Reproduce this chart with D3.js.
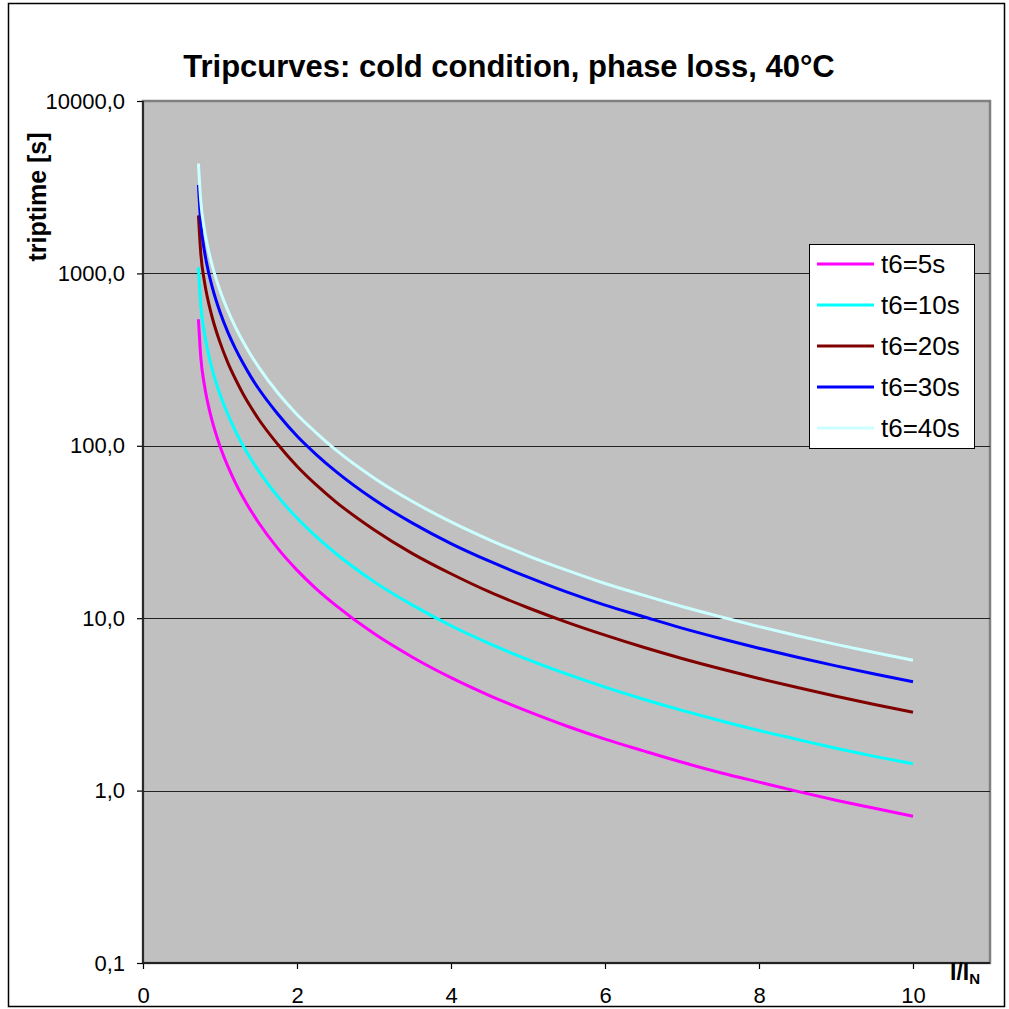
<!DOCTYPE html>
<html>
<head>
<meta charset="utf-8">
<script src="https://cdn.jsdelivr.net/npm/d3@7"></script>
<style>
	body { margin: 0; background: #ffffff; }
	text { font-family: "Liberation Sans", Arial, sans-serif; fill: #000; }
</style>
</head>
<body>
<div id="chart-area"></div>
<script>
// I/IN values where the curves are sampled
const xValues = [0.72, 0.75, 0.8, 0.85, 0.9, 1.0, 1.1, 1.2, 1.3, 1.4, 1.5, 1.75, 2, 2.25, 2.5, 3, 3.5, 4, 4.5, 5, 5.5, 6, 6.5, 7, 7.5, 8, 8.5, 9, 9.5, 10]

// triptime [s], one list per curve
const t6_5s  = [542, 328, 221.5, 170.4, 138.4, 99.5, 76.4, 61.0, 50.1, 42.1, 35.9, 25.4, 19.0, 14.8, 11.9, 8.14, 5.94, 4.52, 3.56, 2.88, 2.37, 1.99, 1.70, 1.46, 1.27, 1.12, 0.99, 0.88, 0.79, 0.71]
const t6_10s = [1085, 656, 443, 341, 277, 199, 153, 122, 100, 84.1, 71.7, 50.9, 38.1, 29.7, 23.8, 16.3, 11.9, 9.04, 7.12, 5.75, 4.75, 3.98, 3.39, 2.92, 2.54, 2.23, 1.98, 1.76, 1.58, 1.43]
const t6_20s = [2170, 1312, 886, 681, 553, 398, 305, 244, 200, 168, 143, 102, 76.1, 59.3, 47.5, 32.6, 23.7, 18.1, 14.2, 11.5, 9.49, 7.97, 6.78, 5.84, 5.09, 4.47, 3.96, 3.53, 3.16, 2.85]
const t6_30s = [3255, 1968, 1329, 1022, 830, 597, 458, 366, 301, 252, 215, 153, 114, 89.0, 71.3, 48.8, 35.6, 27.1, 21.4, 17.3, 14.2, 11.9, 10.2, 8.76, 7.63, 6.70, 5.93, 5.29, 4.75, 4.28]
const t6_40s = [4340, 2624, 1772, 1363, 1107, 796, 611, 488, 401, 336, 287, 203, 152, 119, 95.0, 65.1, 47.5, 36.2, 28.5, 23.0, 19.0, 15.9, 13.6, 11.7, 10.2, 8.94, 7.91, 7.05, 6.33, 5.71]

const seriesNames  = ["t6=5s", "t6=10s", "t6=20s", "t6=30s", "t6=40s"]
const seriesColors = ["#ff00ff", "#00ffff", "#800000", "#0000ff", "#ccffff"]

const yTicks      = [0.1, 1, 10, 100, 1000, 10000]
const yTickLabels = ["0,1", "1,0", "10,0", "100,0", "1000,0", "10000,0"]
const xTicks      = [0, 2, 4, 6, 8, 10]

const SIZE = 1009
const PLOT = { LEFT: 143, TOP: 101, RIGHT: 990, BOTTOM: 963 }
const FONT = "Liberation Sans, Arial, sans-serif"

const series = [t6_5s, t6_10s, t6_20s, t6_30s, t6_40s].map((vals, i) => ({
	name: seriesNames[i],
	color: seriesColors[i],
	points: vals.map((v, j) => ({ x: xValues[j], y: v }))
}))

const svg = d3.select("#chart-area")
	.append("svg")
		.attr("width", SIZE)
		.attr("height", SIZE)

// outer chart frame
svg.append("rect")
	.attr("x", 8.5)
	.attr("y", 3.5)
	.attr("width", 996)
	.attr("height", 1003)
	.attr("fill", "#fff")
	.attr("stroke", "#000")
	.attr("stroke-width", 1.5)

const x = d3.scaleLinear()
	.domain([0, 11])
	.range([PLOT.LEFT, PLOT.RIGHT])

const y = d3.scaleLog()
	.domain([0.1, 10000])
	.range([PLOT.BOTTOM, PLOT.TOP])

// plot area
svg.append("rect")
	.attr("x", PLOT.LEFT)
	.attr("y", PLOT.TOP)
	.attr("width", PLOT.RIGHT - PLOT.LEFT)
	.attr("height", PLOT.BOTTOM - PLOT.TOP)
	.attr("fill", "#c0c0c0")
	.attr("stroke", "#808080")
	.attr("stroke-width", 2.5)

// horizontal gridlines
svg.append("g")
	.selectAll("line")
	.data(yTicks.filter(d => d > 0.1 && d < 10000))
	.enter().append("line")
		.attr("x1", PLOT.LEFT)
		.attr("x2", PLOT.RIGHT)
		.attr("y1", d => Math.round(y(d)) + 0.5)
		.attr("y2", d => Math.round(y(d)) + 0.5)
		.attr("stroke", "#222")
		.attr("stroke-width", 1.2)

// axes
const yAxisCall = d3.axisLeft(y)
	.tickValues(yTicks)
	.tickFormat((d, i) => yTickLabels[i])
	.tickSize(6)
	.tickPadding(12)

const xAxisCall = d3.axisBottom(x)
	.tickValues(xTicks)
	.tickFormat(d3.format("d"))
	.tickSize(6)
	.tickPadding(18)

const yAxisGroup = svg.append("g")
	.attr("transform", `translate(${PLOT.LEFT}, 0)`)
	.call(yAxisCall)
yAxisGroup.select(".domain").remove()
yAxisGroup.selectAll("text").attr("font-size", 22).attr("font-family", FONT)
yAxisGroup.selectAll("line").attr("stroke", "#000").attr("stroke-width", 1.2)

const xAxisGroup = svg.append("g")
	.attr("transform", `translate(0, ${PLOT.BOTTOM})`)
	.call(xAxisCall)
xAxisGroup.select(".domain").remove()
xAxisGroup.selectAll("text").attr("font-size", 22).attr("font-family", FONT)
xAxisGroup.selectAll("line").attr("stroke", "#000").attr("stroke-width", 1.2)

// axis lines
svg.append("line")
	.attr("x1", PLOT.LEFT).attr("x2", PLOT.LEFT)
	.attr("y1", PLOT.TOP).attr("y2", PLOT.BOTTOM)
	.attr("stroke", "#222").attr("stroke-width", 1.8)
svg.append("line")
	.attr("x1", PLOT.LEFT).attr("x2", PLOT.RIGHT)
	.attr("y1", PLOT.BOTTOM).attr("y2", PLOT.BOTTOM)
	.attr("stroke", "#222").attr("stroke-width", 1.8)

// curves
const line = d3.line()
	.x(d => x(d.x))
	.y(d => y(d.y))
	.curve(d3.curveMonotoneX)

svg.append("g")
	.selectAll("path")
	.data(series)
	.enter().append("path")
		.attr("d", d => line(d.points))
		.attr("fill", "none")
		.attr("stroke", d => d.color)
		.attr("stroke-width", 3)

// title
svg.append("text")
	.attr("x", 509)
	.attr("y", 77)
	.attr("text-anchor", "middle")
	.attr("font-size", 31)
	.attr("font-weight", "bold")
	.text("Tripcurves: cold condition, phase loss, 40\u00b0C")

// y axis label
svg.append("text")
	.attr("x", -197)
	.attr("y", 46)
	.attr("transform", "rotate(-90)")
	.attr("text-anchor", "middle")
	.attr("font-size", 25)
	.attr("font-weight", "bold")
	.text("triptime [s]")

// x axis label I/IN
const xLabel = svg.append("text")
	.attr("x", 950)
	.attr("y", 980)
	.attr("font-size", 23)
	.attr("font-weight", "bold")
xLabel.append("tspan").text("I/I")
xLabel.append("tspan").attr("dy", 4).attr("font-size", 15).text("N")

// legend
const LEGEND = { X: 809, Y: 244, W: 165, H: 204, ROW: 41 }
const legend = svg.append("g")
	.attr("transform", `translate(${LEGEND.X}, ${LEGEND.Y})`)

legend.append("rect")
	.attr("x", 0.5).attr("y", 0.5)
	.attr("width", LEGEND.W).attr("height", LEGEND.H)
	.attr("fill", "#fff")
	.attr("stroke", "#000")
	.attr("stroke-width", 1)

const items = legend.selectAll("g.item")
	.data(series)
	.enter().append("g")
		.attr("class", "item")
		.attr("transform", (d, i) => `translate(0, ${20 + i * LEGEND.ROW})`)

items.append("line")
	.attr("x1", 8).attr("x2", 65)
	.attr("y1", 0).attr("y2", 0)
	.attr("stroke", d => d.color)
	.attr("stroke-width", 3)

items.append("text")
	.attr("x", 72)
	.attr("y", 9)
	.attr("font-size", 26)
	.text(d => d.name)
</script>
</body>
</html>
